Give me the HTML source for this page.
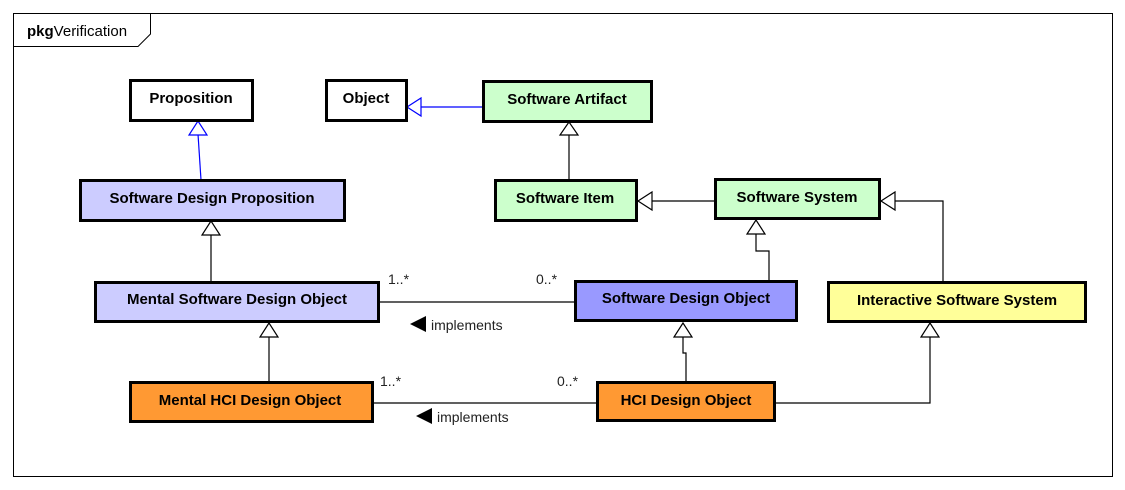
<!DOCTYPE html>
<html><head><meta charset="utf-8"><style>
html,body{margin:0;padding:0;background:#fff;}
svg{display:block;font-family:"Liberation Sans",Arial,sans-serif;}
.b{stroke:#000;stroke-width:3;}
.t{font-size:15px;font-weight:bold;text-anchor:middle;}
.l{fill:none;stroke:#000;stroke-width:1.2;}
.tri{fill:#fff;stroke:#000;stroke-width:1.2;}
.m{font-size:14px;fill:#222;}
</style></head><body>
<svg width="1125" height="490" viewBox="0 0 1125 490">
<rect x="0" y="0" width="1125" height="490" fill="#fff"/>
<rect x="13.5" y="13.5" width="1099" height="463" fill="none" stroke="#000" stroke-width="1"/>
<path d="M13.5 46.5 H138 L150.5 34 V13.5" fill="none" stroke="#000" stroke-width="1"/>
<text x="27" y="36" font-size="15"><tspan font-weight="bold">pkg</tspan>Verification</text>

<path d="M201 180 Q199 150 198 134" fill="none" stroke="#00f" stroke-width="1.2"/>
<polygon points="198,121 189,135 207,135" fill="#fff" stroke="#00f" stroke-width="1.2"/>
<path d="M483 107 H420" fill="none" stroke="#00f" stroke-width="1.2"/>
<polygon points="407,107 421,98 421,116" fill="#fff" stroke="#00f" stroke-width="1.2"/>

<path class="l" d="M569 180 V134"/><polygon class="tri" points="569,122 560,135 578,135"/>
<path class="l" d="M715 201 H651"/><polygon class="tri" points="638,201 652,192 652,210"/>
<path class="l" d="M769 281 V251 H756 V233"/><polygon class="tri" points="756,220 747,234 765,234"/>
<path class="l" d="M943 282 V201 H894"/><polygon class="tri" points="881,201 895,192 895,210"/>
<path class="l" d="M211 282 V234"/><polygon class="tri" points="211,221 202,235 220,235"/>
<path class="l" d="M269 382 V336"/><polygon class="tri" points="269,323 260,337 278,337"/>
<path class="l" d="M686 382 V353 H683 V336"/><polygon class="tri" points="683,323 674,337 692,337"/>
<path class="l" d="M775 403 H930 V336"/><polygon class="tri" points="930,323 921,337 939,337"/>

<path class="l" d="M379 302 H575"/>
<path class="l" d="M373 403 H597"/>
<text class="m" x="388" y="284">1..*</text>
<text class="m" x="536" y="284">0..*</text>
<polygon points="410,324 426,316 426,332" fill="#000"/>
<text class="m" x="431" y="330">implements</text>
<text class="m" x="380" y="386">1..*</text>
<text class="m" x="557" y="386">0..*</text>
<polygon points="416,416 432,408 432,424" fill="#000"/>
<text class="m" x="437" y="422">implements</text>

<rect class="b" x="130.5" y="80.5" width="122" height="40" fill="#fff"/>
<text class="t" x="191" y="103">Proposition</text>
<rect class="b" x="326.5" y="80.5" width="80" height="40" fill="#fff"/>
<text class="t" x="366" y="103">Object</text>
<rect class="b" x="483.5" y="81.5" width="168" height="40" fill="#ccffcc"/>
<text class="t" x="567" y="104">Software Artifact</text>
<rect class="b" x="80.5" y="180.5" width="264" height="40" fill="#ccccff"/>
<text class="t" x="212" y="203">Software Design Proposition</text>
<rect class="b" x="495.5" y="180.5" width="141" height="40" fill="#ccffcc"/>
<text class="t" x="565" y="203">Software Item</text>
<rect class="b" x="715.5" y="179.5" width="164" height="39" fill="#ccffcc"/>
<text class="t" x="797" y="202">Software System</text>
<rect class="b" x="95.5" y="282.5" width="283" height="39" fill="#ccccff"/>
<text class="t" x="237" y="304">Mental Software Design Object</text>
<rect class="b" x="575.5" y="281.5" width="221" height="39" fill="#9999ff"/>
<text class="t" x="686" y="303">Software Design Object</text>
<rect class="b" x="828.5" y="282.5" width="257" height="39" fill="#ffff99"/>
<text class="t" x="957" y="305">Interactive Software System</text>
<rect class="b" x="130.5" y="382.5" width="242" height="39" fill="#ff9933"/>
<text class="t" x="250" y="405">Mental HCI Design Object</text>
<rect class="b" x="597.5" y="382.5" width="177" height="38" fill="#ff9933"/>
<text class="t" x="686" y="405">HCI Design Object</text>
</svg>
</body></html>
